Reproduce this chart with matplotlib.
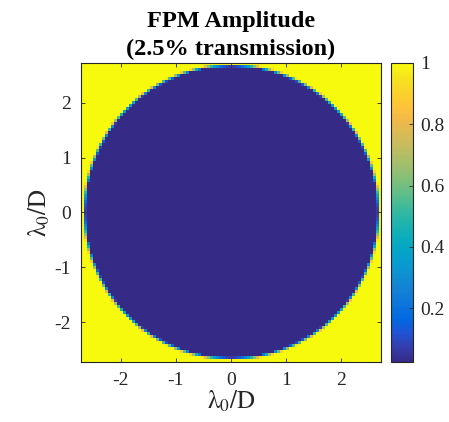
import numpy as np
import matplotlib
matplotlib.use("Agg")
import matplotlib.pyplot as plt
from matplotlib.colors import LinearSegmentedColormap

# Focal-plane mask parameters (units of lambda0/D)
transmission = 0.025          # amplitude inside the occulting spot
spot_radius = 2.70            # radius of the occulting spot
half_width = 2.73             # half-width of the displayed field
n_samples = 100               # samples across the field
x_ticks = [-2, -1, 0, 1, 2]
y_ticks = [-2, -1, 0, 1, 2]
cbar_ticks = [0.2, 0.4, 0.6, 0.8, 1.0]
cbar_ticklabels = ["0.2", "0.4", "0.6", "0.8", "1"]

# MATLAB parula colormap (subset of the 64-entry table)
parula_pts = [
    (0.2081, 0.1663, 0.5292), (0.2081, 0.2386, 0.6771), (0.1253, 0.3242, 0.8303),
    (0.0060, 0.4086, 0.8828), (0.0498, 0.4586, 0.8641), (0.0779, 0.5040, 0.8384),
    (0.0641, 0.5570, 0.8240), (0.0265, 0.6137, 0.8135), (0.0228, 0.6535, 0.7768),
    (0.0590, 0.6838, 0.7254), (0.1453, 0.7098, 0.6646), (0.2586, 0.7317, 0.5954),
    (0.3953, 0.7459, 0.5244), (0.5300, 0.7491, 0.4661), (0.6473, 0.7456, 0.4188),
    (0.7525, 0.7384, 0.3768), (0.8507, 0.7299, 0.3360), (0.9450, 0.7261, 0.2886),
    (0.9990, 0.7653, 0.2164), (0.9789, 0.8271, 0.1633), (0.9589, 0.8949, 0.1132),
    (0.9763, 0.9831, 0.0538),
]
parula = LinearSegmentedColormap.from_list("parula", parula_pts, N=256)

# Build the mask amplitude with a soft, one-sample-wide edge
coords = np.linspace(-half_width, half_width, n_samples)
dx = coords[1] - coords[0]
X, Y = np.meshgrid(coords, coords)
R = np.hypot(X, Y)
frac = np.clip((R - spot_radius) / dx + 0.5, 0.0, 1.0)
amp = transmission + (1.0 - transmission) * frac

plt.rcParams["font.family"] = ["Liberation Serif", "DejaVu Serif"]
plt.rcParams["mathtext.fontset"] = "stix"

fig = plt.figure(figsize=(4.49, 4.22), dpi=100)
ax = fig.add_axes([0.180, 0.142, 0.669, 0.709])
im = ax.imshow(amp, cmap=parula, origin="lower",
               extent=[-half_width, half_width, -half_width, half_width],
               vmin=amp.min(), vmax=amp.max(), interpolation="nearest",
               aspect="auto")
ax.set_xticks(x_ticks)
ax.set_yticks(y_ticks)
ax.set_xticklabels([str(t) for t in x_ticks])
ax.set_yticklabels([str(t) for t in y_ticks])
ax.tick_params(direction="in", length=3, width=0.6, labelsize=14,
               top=True, right=True, colors="#262626", pad=7)
for s in ax.spines.values():
    s.set_linewidth(0.8)
    s.set_color("#262626")
label = r"$\mathrm{\lambda_0/D}$"
ax.set_xlabel(label, fontsize=18, color="#262626", labelpad=0)
ax.set_ylabel(label, fontsize=18, color="#262626", labelpad=2)
ax.set_title("FPM Amplitude\n(2.5% transmission)", fontsize=17.5,
             fontweight="bold", linespacing=1.42, pad=6)

cax = fig.add_axes([0.871, 0.142, 0.049, 0.709])
cb = fig.colorbar(im, cax=cax)
cb.set_ticks(cbar_ticks)
cb.set_ticklabels(cbar_ticklabels)
cb.ax.tick_params(direction="in", length=3, width=0.6, labelsize=14,
                  colors="#262626", pad=5)
cb.outline.set_linewidth(0.8)
cb.outline.set_edgecolor("#262626")

fig.savefig("out.png", dpi=100)
